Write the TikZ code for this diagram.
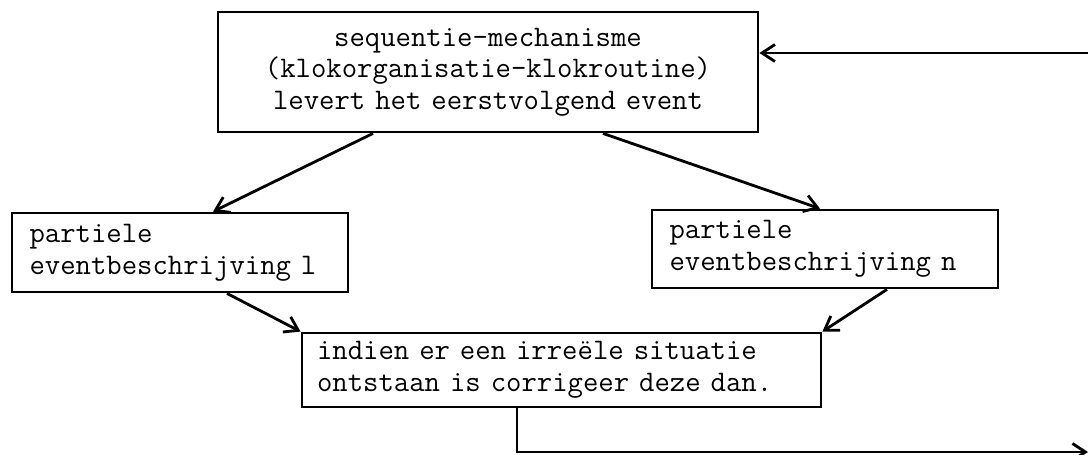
\documentclass[tikz,border=0pt]{standalone}
\usepackage{tikz}
\usetikzlibrary{arrows.meta, positioning, calc}

\tikzset{
  blok/.style={draw, line width=1.6pt, font=\ttfamily\fontsize{17}{18}\selectfont,
    inner xsep=0.35cm, inner ysep=0pt, align=left},
  pijl/.style={line width=1.6pt, -{Straight Barb[length=2.6mm, width=3.4mm, line width=1.6pt]}},
}

\begin{document}
\begin{tikzpicture}
        \useasboundingbox (0,0) rectangle (21.76,9.08);
        % kader bovenaan
        \node[blok, align=center, text width=10.1cm, minimum height=2.4cm] (seq) at (9.76,7.64)
          {sequentie-mechanisme\\(klokorganisatie-klokroutine)\\levert het eerstvolgend event};
        % partiele beschrijvingen
        \node[blok, text width=6.02cm, minimum height=1.58cm] (part1) at (3.6,4.03)
          {partiele\\eventbeschrijving l};
        \node[blok, text width=6.22cm, minimum height=1.56cm] (partn) at (16.5,4.10)
          {partiele\\eventbeschrijving n};
        % correctie
        \node[blok, inner xsep=0.3cm, text width=9.78cm, minimum height=1.48cm] (corr) at (11.23,1.68)
          {indien er een irre\"ele situatie\\ontstaan is corrigeer deze dan.};
        \coordinate (uit) at (21.76,0.04);
        \coordinate (terug) at (21.76,8.02);
        \draw[pijl] ([xshift=-2.3cm]seq.south) -- ([xshift=0.66cm]part1.north);
        \draw[pijl] ([xshift=2.3cm]seq.south) -- ([xshift=-0.1cm]partn.north);
        \draw[pijl] ([xshift=0.94cm]part1.south) -- (corr.north west);
        \draw[pijl] ([xshift=1.24cm]partn.south) -- (corr.north east);
        \draw[pijl] ([xshift=-0.89cm]corr.south) |- (uit);
        \draw[pijl] (terug) -- (terug -| seq.east);
      \end{tikzpicture}
\end{document}
